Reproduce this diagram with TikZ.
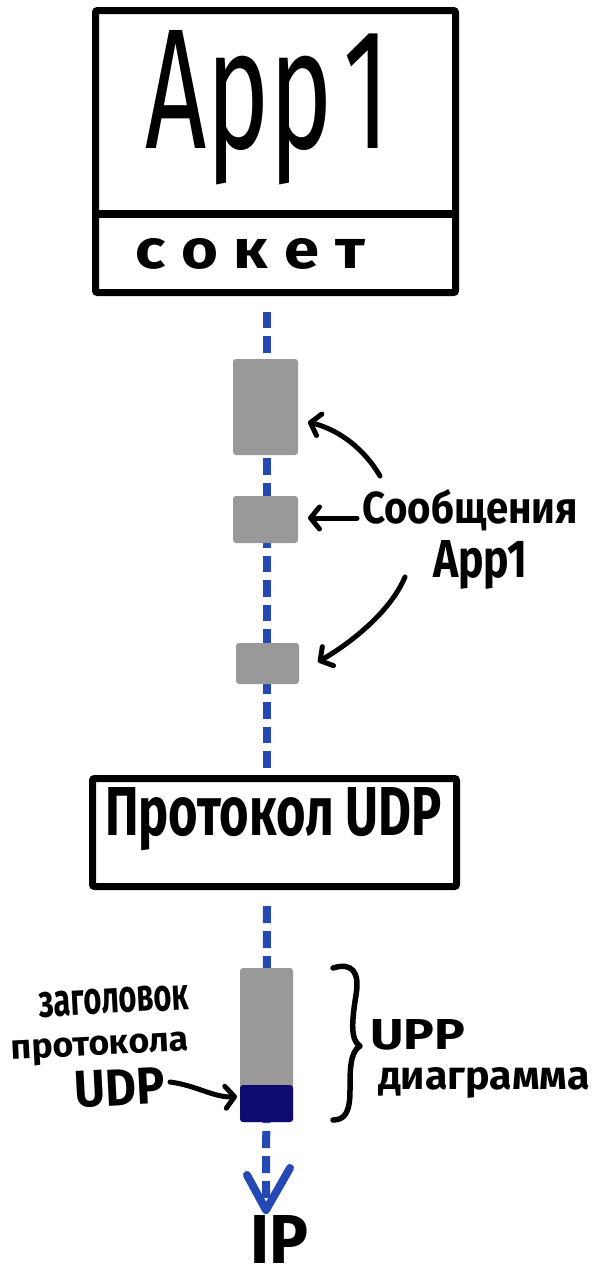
\documentclass[tikz,border=0pt]{standalone}
\usepackage{fontspec}
\setmainfont{Fira Sans}
\usetikzlibrary{arrows.meta}
\definecolor{lineblue}{RGB}{36,72,180}
\definecolor{blockgrey}{RGB}{153,153,153}
\definecolor{hdrnavy}{RGB}{14,10,112}
\tikzset{
  frame/.style={draw=black, line width=7pt, rounded corners=2pt, fill=white, inner sep=0pt, outer sep=0pt},
  msgblock/.style={fill=blockgrey, rounded corners=3pt, inner sep=0pt, outer sep=0pt},
  hdrblock/.style={fill=hdrnavy, rounded corners=3pt, inner sep=0pt, outer sep=0pt},
  hand/.style={inner sep=0pt, outer sep=0pt, font=\bfseries\fontsize{20}{24}\selectfont},
  thinhand/.style={inner sep=0pt, outer sep=0pt, font=\mdseries\fontsize{20}{24}\selectfont},
  inkarrow/.style={draw=black, line width=5pt, line cap=round, line join=round,
    -{Straight Barb[length=9pt,width=22pt,round]}},
  flow/.style={draw=lineblue, line width=8pt},
  bluev/.style={draw=lineblue, line width=8pt, line cap=round, line join=round},
  brace/.style={draw=black, line width=5.5pt, line cap=round, line join=round},
}
\begin{document}
\begin{tikzpicture}[x=1pt, y=-1pt]
\useasboundingbox (0,0) rectangle (596,1280);
\fill[white] (0,0) rectangle (596,1280);

% flow line
\coordinate (s1) at (267,312);
\coordinate (e1) at (267,772);
\coordinate (s2) at (267,906);
\coordinate (tip) at (266,1210);
\coordinate (varml) at (247,1175);
\coordinate (varmr) at (290,1168);
\draw[flow, dash pattern=on 16.4pt off 8pt] (s1) -- (e1);
\draw[flow, dash pattern=on 17pt off 8pt] (s2) -- (tip);

% top box
\node[frame, minimum width=360pt, minimum height=282pt] (app) at (275.5,151.5) {};
\draw[black, line width=8pt] ([yshift=-62.5pt]app.west) -- ([yshift=-62.5pt]app.east);
\node[thinhand, anchor=base west] (apptxt) at (145,148) {\resizebox{245pt}{118pt}{App\kern2pt 1}};
\node[hand, anchor=base west] (sock) at (135,268) {\resizebox{230pt}{30pt}{с\kern5pt о\kern5pt к\kern5pt е\kern5pt т}};

% message blocks
\node[msgblock, minimum width=65pt, minimum height=96pt] (b1) at (265.5,407) {};
\node[msgblock, minimum width=65pt, minimum height=47pt] (b2) at (265.5,519.5) {};
\node[msgblock, minimum width=63pt, minimum height=41pt] (b3) at (267.5,663.5) {};

\node[hand, anchor=base west] (msg) at (362,523) {\resizebox{216pt}{34pt}{Сообщения}};
\node[hand, anchor=base west] (msgapp) at (433,577) {\resizebox{94pt}{37pt}{App1}};

\coordinate (a1s) at (380,476);
\coordinate (a2s) at (357,518);
\coordinate (a3s) at (405,577);
\draw[inkarrow] (a1s) .. controls (365,450) and (340,430) .. ([xshift=10pt,yshift=-15pt]b1.east);
\draw[inkarrow] (a2s) -- ([xshift=10pt,yshift=1.5pt]b2.east);
\draw[inkarrow] (a3s) .. controls (390,612) and (352,642) .. ([xshift=19pt,yshift=1.5pt]b3.east);

% UDP box
\node[frame, minimum width=364pt, minimum height=108pt] (udp) at (274.5,832.5) {};
\node[hand, anchor=base west] (udptxt) at (105,835) {\resizebox{337pt}{48pt}{Протокол UDP}};

% datagram
\node[msgblock, minimum width=53pt, minimum height=154pt] (dg) at (266.5,1045) {};
\node[hdrblock, minimum width=53pt, minimum height=37pt] (hdr) at (266.5,1103.5) {};

% brace
\draw[brace] (333,968) .. controls (352,962) and (360,972) .. (356,995)
  .. controls (352,1020) and (350,1040) .. (360,1046)
  .. controls (350,1052) and (350,1070) .. (350,1090)
  .. controls (350,1112) and (345,1120) .. (333,1120);
\node[hand, anchor=base west] (upp) at (370,1049) {\resizebox{95pt}{30pt}{UPP}};
\node[hand, anchor=base west] (diag) at (378,1089) {\resizebox{212pt}{22pt}{диаграмма}};

% header label
\node[hand, rotate=3] (zag) at (114,1001) {\resizebox{150pt}{25pt}{заголовок}};
\node[hand, rotate=3] (prot) at (100,1049) {\resizebox{178pt}{19pt}{протокола}};
\node[hand, rotate=3] (udplbl) at (120,1088) {\resizebox{90pt}{36pt}{UDP}};
\coordinate (a4s) at (170,1082);
\draw[inkarrow] (a4s) .. controls (195,1085) and (215,1098) .. ([xshift=-3pt,yshift=7pt]hdr.west);

% IP
\draw[bluev] (varml) -- (tip) -- (varmr);
\node[hand, anchor=base west] (ip) at (250,1263) {\resizebox{58pt}{48pt}{IP}};
\end{tikzpicture}
\end{document}
